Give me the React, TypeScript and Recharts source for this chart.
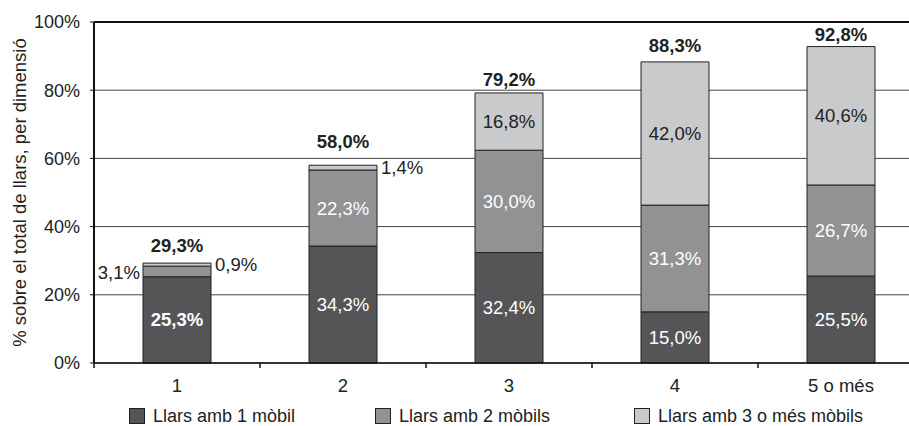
import React from "react";
import {
  BarChart,
  Bar,
  XAxis,
  YAxis,
  CartesianGrid,
  Legend,
  LabelList,
  ReferenceLine,
} from "recharts";

const categories = ["1", "2", "3", "4", "5 o més"];
const oneMobile = [25.3, 34.3, 32.4, 15.0, 25.5];
const twoMobiles = [3.1, 22.3, 30.0, 31.3, 26.7];
const threeMobiles = [0.9, 1.4, 16.8, 42.0, 40.6];
const totals = [29.3, 58.0, 79.2, 88.3, 92.8];
const yTicks = [0, 20, 40, 60, 80, 100];
const seriesNames = [
  "Llars amb 1 mòbil",
  "Llars amb 2 mòbils",
  "Llars amb 3 o més mòbils",
];

const FONT = '"Liberation Sans", Arial, sans-serif';
const COLORS = ["#555558", "#929295", "#c9cacc"];
const EDGE = "#222";
const VAL_SIZE = 18.5;

const data = categories.map((c, i) => ({
  name: c,
  m1: oneMobile[i],
  m2: twoMobiles[i],
  m3: threeMobiles[i],
  total: totals[i],
}));

const fmt = (v: number) => v.toFixed(1).replace(".", ",") + "%";

// labels drawn inside segments, with a few small ones pushed outside
const segLabel =
  (series: number) =>
  (props: any) => {
    const { x, y, width, height, index, value } = props;
    const cx = x + width / 2;
    const cy = y + height / 2;
    let tx = cx;
    let ty = cy + 6.5;
    let anchor: "middle" | "start" | "end" = "middle";
    let fill = series === 2 ? "#222" : "#fff";
    let weight = 400;
    if (series === 0 && index === 0) weight = 700;
    if (series === 1 && index === 0) {
      tx = x - 3;
      anchor = "end";
      fill = "#222";
      ty = cy + 8;
    }
    if (series === 2 && (index === 0 || index === 1)) {
      tx = x + width + 4;
      anchor = "start";
      ty = cy + 6;
    }
    return (
      <text
        x={tx}
        y={ty}
        textAnchor={anchor}
        fill={fill}
        fontSize={VAL_SIZE}
        fontWeight={weight}
        fontFamily={FONT}
      >
        {fmt(value)}
      </text>
    );
  };

const totalDy = [-11, -17, -7, -10, -6];

const totalLabel = (props: any) => {
  const { x, y, width, index } = props;
  return (
    <text
      x={x + width / 2}
      y={y + totalDy[index]}
      textAnchor="middle"
      fill="#222"
      fontSize={VAL_SIZE}
      fontWeight={700}
      fontFamily={FONT}
    >
      {fmt(totals[index])}
    </text>
  );
};

const XTick = (props: any) => {
  const { x, y, payload, index } = props;
  const half = 83;
  return (
    <g>
      <line x1={x - half} y1={y - 5} x2={x - half} y2={y} stroke="#111" strokeWidth={1.5} />
      {index === categories.length - 1 && (
        <line x1={x + half} y1={y - 5} x2={x + half} y2={y} stroke="#111" strokeWidth={1.5} />
      )}
      <text x={x} y={y + 24} textAnchor="middle" fill="#222" fontSize={18.5} fontFamily={FONT}>
        {payload.value}
      </text>
    </g>
  );
};

const YLabel = (props: any) => {
  const { viewBox } = props;
  const x = viewBox.x + 26;
  const y = viewBox.y + viewBox.height / 2;
  return (
    <text
      x={x}
      y={y}
      transform={`rotate(-90, ${x}, ${y})`}
      textAnchor="middle"
      fill="#222"
      fontSize={18.5}
      fontFamily={FONT}
    >
      % sobre el total de llars, per dimensió
    </text>
  );
};

const LegendContent = () => {
  const starts = [129, 375, 634];
  return (
    <div style={{ position: "relative", height: 28, width: 909 }}>
      {seriesNames.map((n, i) => (
        <div
          key={n}
          style={{
            position: "absolute",
            left: starts[i],
            top: 9,
            display: "flex",
            alignItems: "center",
            fontFamily: FONT,
            fontSize: 18,
            lineHeight: "18px",
            color: "#222",
            whiteSpace: "nowrap",
          }}
        >
          <span
            style={{
              display: "inline-block",
              width: 14,
              height: 14,
              background: COLORS[i],
              border: `1px solid ${EDGE}`,
              marginRight: 8,
            }}
          />
          {n}
        </div>
      ))}
    </div>
  );
};

export default function App() {
  return (
    <div
      style={{
        position: "absolute",
        left: 0,
        top: 0,
        width: 909,
        height: 426,
        overflow: "hidden",
        background: "#fff",
      }}
    >
      <BarChart
        width={930}
        height={426}
        data={data}
        margin={{ top: 22, right: 6, bottom: 0, left: 0 }}
        barSize={68}
      >
        <CartesianGrid horizontal vertical={false} stroke="#444" strokeWidth={1} />
        <XAxis
          dataKey="name"
          height={35}
          tickSize={5}
          tickMargin={0}
          tickLine={false}
          tick={<XTick />}
          axisLine={{ stroke: "#111", strokeWidth: 1.5 }}
          interval={0}
        />
        <YAxis
          width={94}
          domain={[0, 100]}
          ticks={yTicks}
          tickFormatter={(v: number) => `${v}%`}
          tickSize={4}
          tickMargin={10}
          tickLine={{ stroke: "#111" }}
          axisLine={{ stroke: "#111", strokeWidth: 2 }}
          tick={{ fill: "#222", fontSize: 18, fontFamily: FONT }}
          label={<YLabel />}
        />
        <ReferenceLine y={100} stroke="#111" strokeWidth={2} />
        <Legend verticalAlign="bottom" content={<LegendContent />} />
        <Bar dataKey="m1" stackId="a" fill={COLORS[0]} stroke={EDGE} strokeWidth={1} isAnimationActive={false} name={seriesNames[0]}>
          <LabelList dataKey="m1" content={segLabel(0)} />
        </Bar>
        <Bar dataKey="m2" stackId="a" fill={COLORS[1]} stroke={EDGE} strokeWidth={1} isAnimationActive={false} name={seriesNames[1]}>
          <LabelList dataKey="m2" content={segLabel(1)} />
        </Bar>
        <Bar dataKey="m3" stackId="a" fill={COLORS[2]} stroke={EDGE} strokeWidth={1} isAnimationActive={false} name={seriesNames[2]}>
          <LabelList dataKey="m3" content={segLabel(2)} />
          <LabelList dataKey="m3" content={totalLabel} />
        </Bar>
      </BarChart>
    </div>
  );
}
